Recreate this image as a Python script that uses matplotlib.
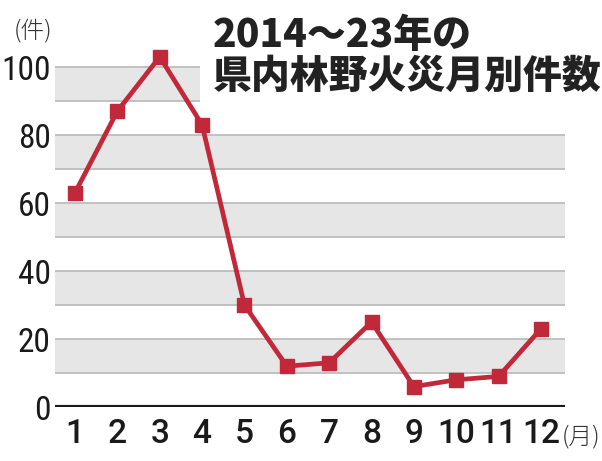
import matplotlib
matplotlib.use("Agg")
import matplotlib.pyplot as plt
from matplotlib.patches import Rectangle

months = [1, 2, 3, 4, 5, 6, 7, 8, 9, 10, 11, 12]
counts = [63, 87, 103, 83, 30, 12, 13, 25, 6, 8, 9, 23]
yticks = [0, 20, 40, 60, 80, 100]
title1 = "2014〜23年の"
title2 = "県内林野火災月別件数"

plt.rcParams['font.family'] = ['Roboto', 'Noto Sans CJK JP', 'DejaVu Sans']

fig = plt.figure(figsize=(6.02, 4.61), dpi=100)
ax = fig.add_axes([55/602, 54/461, 510/602, 357/461])
ax.set_xlim(0.528, 12.567)
ax.set_ylim(0, 105)

# bands
for lo in range(10, 100, 20):
    ax.axhspan(lo, lo + 10, color='#e6e6e6', zorder=0, lw=0)
for v in range(10, 101, 10):
    ax.axhline(v, color='#bdbdbd', lw=1.3, zorder=1)
ax.axhline(0, color='#1a1a1a', lw=3, zorder=3)

# white title box
ax.add_patch(Rectangle((200/602, 1 - 104/461), 402/602, 104/461, transform=fig.transFigure,
                       facecolor='white', edgecolor='none', zorder=2, clip_on=False))

ax.plot(months, counts, color='#c1283a', lw=3.4, marker='s', markersize=10,
        zorder=5, clip_on=False)

for s in ax.spines.values():
    s.set_visible(False)
ax.set_xticks(months)
ax.set_xticklabels([str(m) for m in months])
ax.set_yticks(yticks)
ax.set_yticklabels([str(v) for v in yticks])
ax.tick_params(length=0, colors='#1a1a1a')
ax.tick_params(axis='x', labelsize=24, pad=8)
ax.tick_params(axis='y', labelsize=24, pad=3)
for lab in ax.get_xticklabels():
    lab.set_fontweight('medium')
for lab in ax.get_yticklabels():
    lab.set_family(['Roboto Condensed', 'Roboto'])

fig.text(14/602, 1 - 32/461, "(件)", fontsize=17, color='#333333', va='center', ha='left',
         family=['Noto Sans CJK JP'], fontweight='light')
fig.text(562/602, 1 - 437/461, "(月)", fontsize=17, color='#333333', va='center', ha='left',
         family=['Noto Sans CJK JP'], fontweight='light')

fig.text(213/602, 1 - 35/461, title1, fontsize=28, fontweight='heavy', color='#222222',
         va='center', ha='left', family=['Noto Sans CJK JP'])
fig.text(213/602, 1 - 76/461, title2, fontsize=28, fontweight='heavy', color='#222222',
         va='center', ha='left', family=['Noto Sans CJK JP'])

fig.savefig('out.png', dpi=100, facecolor='white')
